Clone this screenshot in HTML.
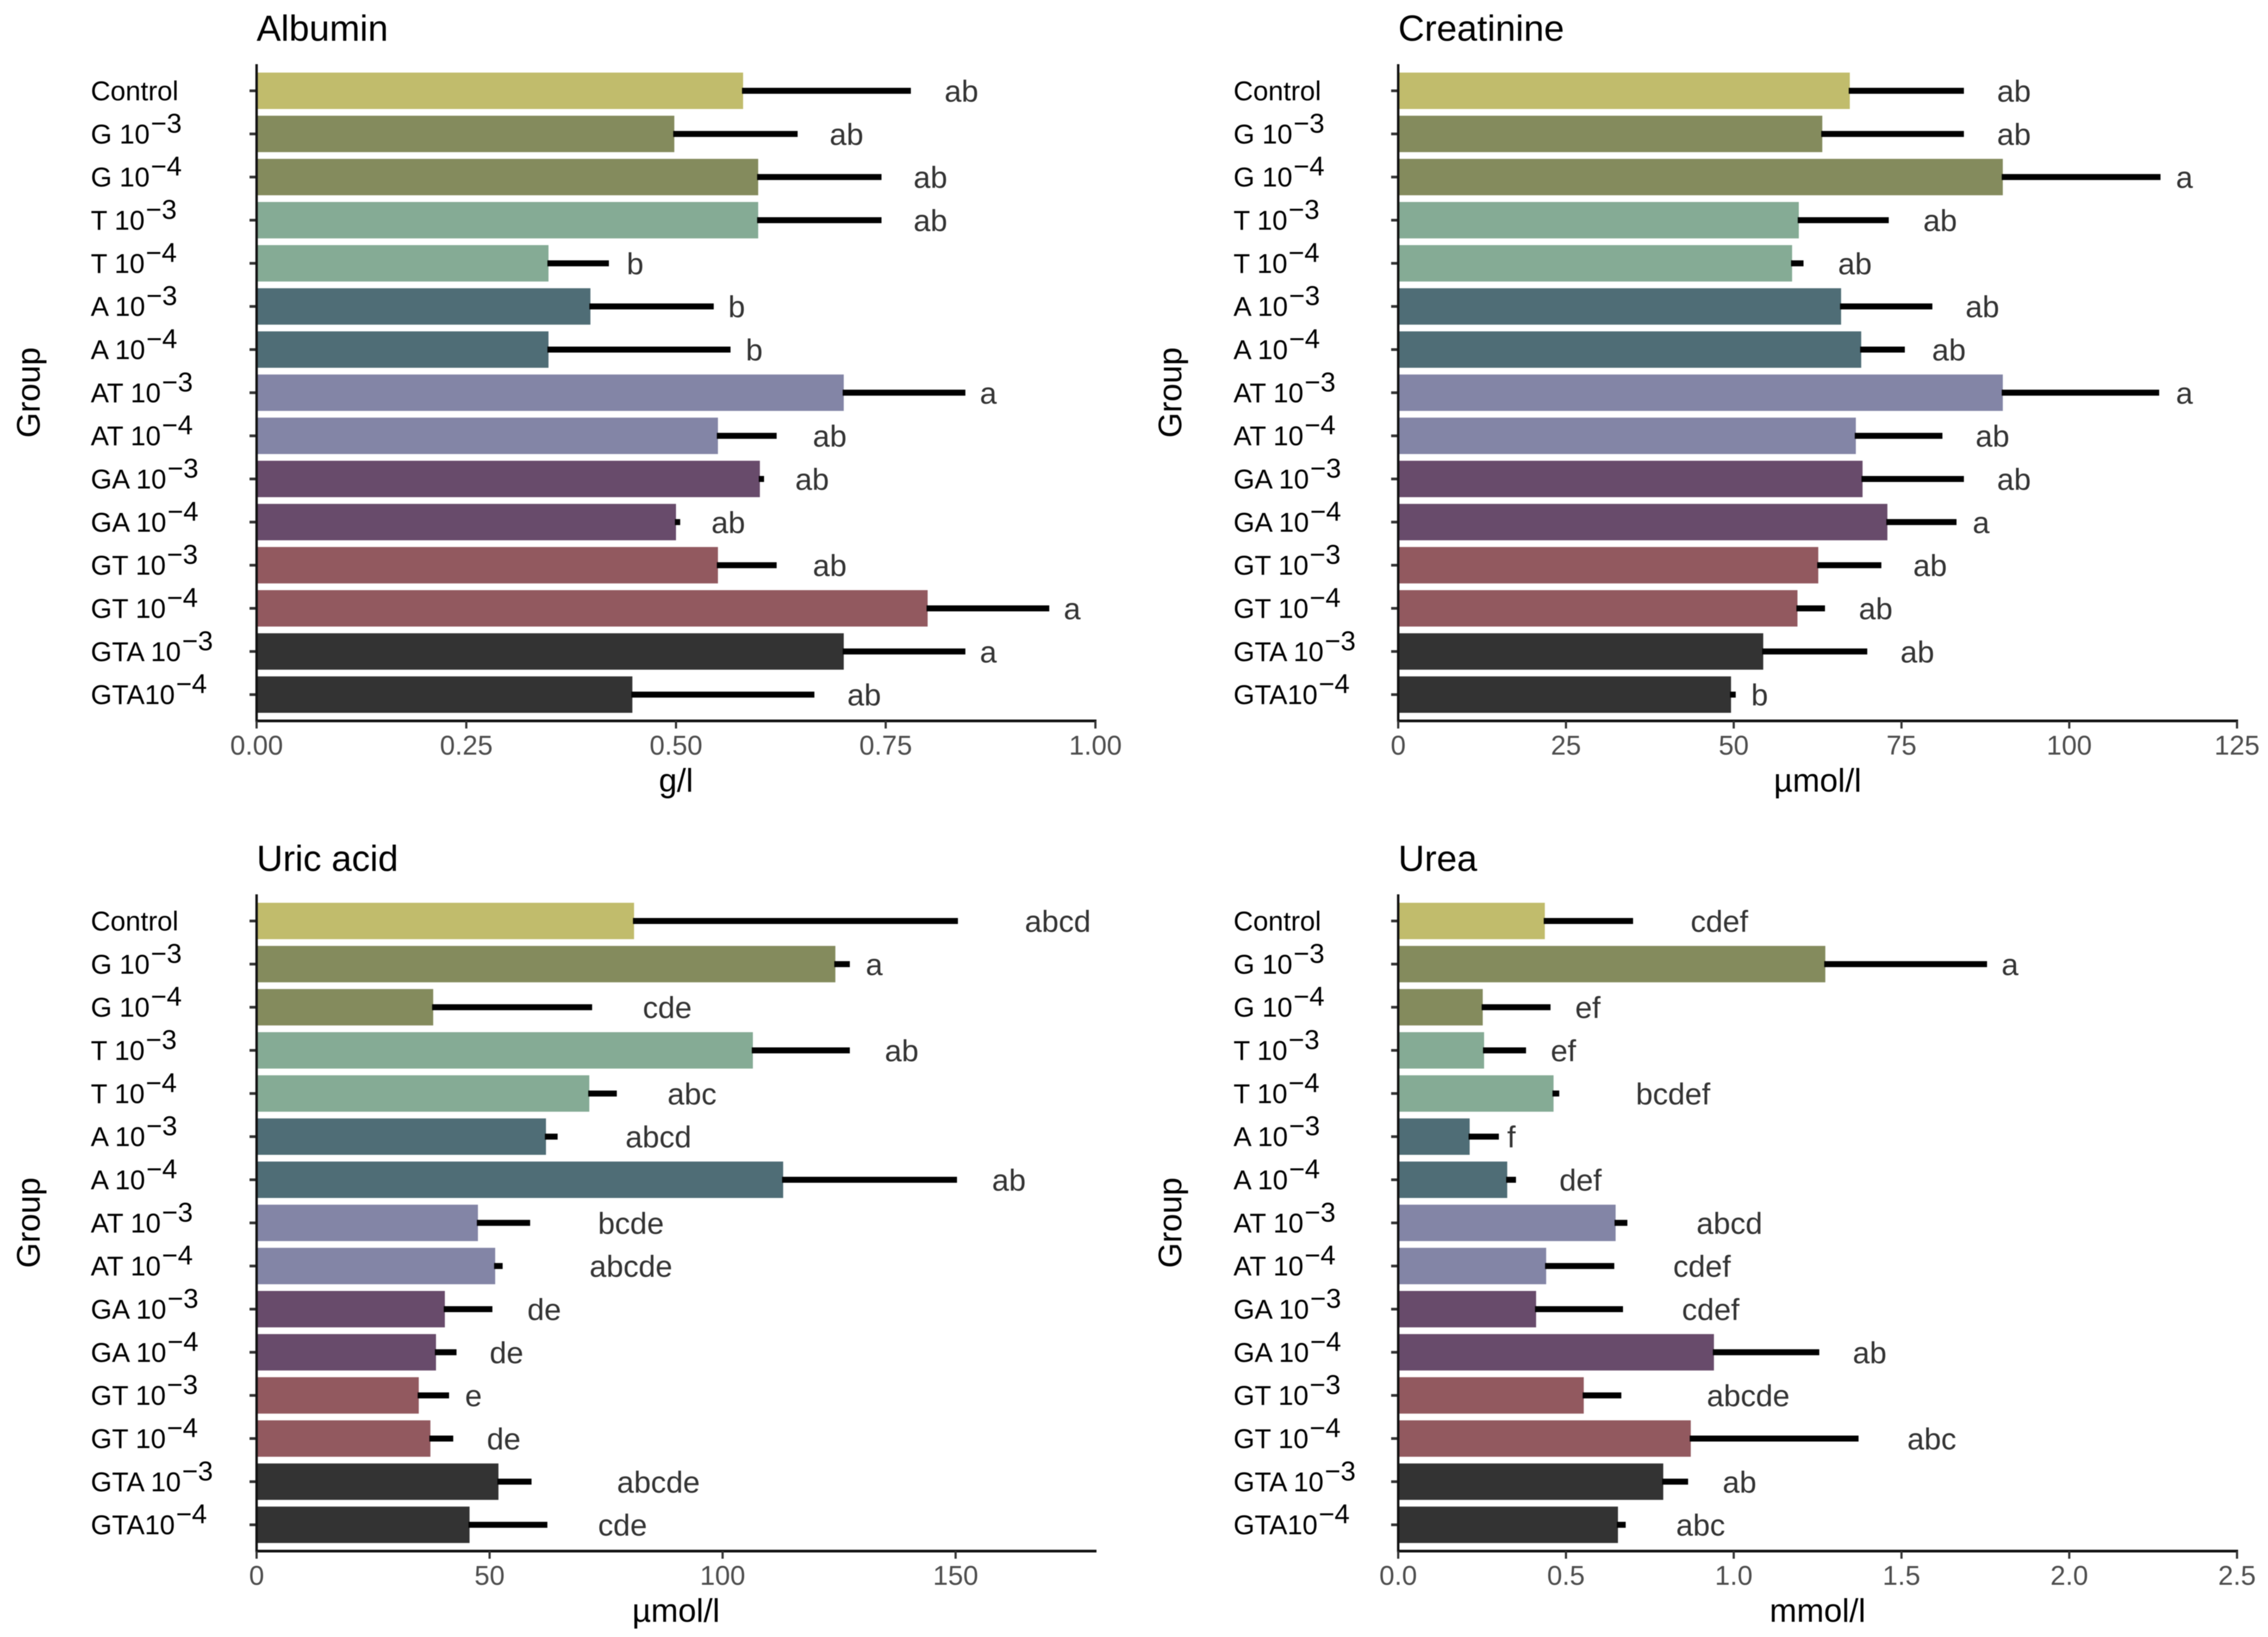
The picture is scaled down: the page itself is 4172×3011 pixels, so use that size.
<!DOCTYPE html>
<html>
<head>
<meta charset="utf-8">
<title>Biochemical parameters by group</title>
<style>
html,body{margin:0;padding:0;background:#fff;}
svg{display:block;filter:blur(0.9px);}
text{font-family:"Liberation Sans",Arial,sans-serif;}
</style>
</head>
<body>
<svg id="chart" xmlns="http://www.w3.org/2000/svg" width="4172" height="3011" viewBox="0 0 4172 3011">
<rect width="4172" height="3011" fill="#ffffff"/>
</svg>
<script>
const groupNames = ["Control","G 10","G 10","T 10","T 10","A 10","A 10","AT 10","AT 10","GA 10","GA 10","GT 10","GT 10","GTA 10","GTA10"];
const groupExponents = ["","−3","−4","−3","−4","−3","−4","−3","−4","−3","−4","−3","−4","−3","−4"];
const groupColors = ["#c1bc6c","#848b5d","#848b5d","#85ab95","#85ab95","#4f6d76","#4f6d76","#8385a6","#8385a6","#684b6b","#684b6b","#92595f","#92595f","#333333","#333333"];

const albuminValues = [0.58,0.498,0.598,0.598,0.348,0.398,0.348,0.70,0.55,0.60,0.50,0.55,0.80,0.70,0.448];
const albuminErrors = [0.78,0.645,0.745,0.745,0.42,0.545,0.565,0.845,0.62,0.605,0.505,0.62,0.945,0.845,0.665];
const albuminLetters = ["ab","ab","ab","ab","b","b","b","a","ab","ab","ab","ab","a","a","ab"];
const albuminLetterPos = [0.839,0.702,0.802,0.802,0.45,0.571,0.592,0.871,0.682,0.661,0.561,0.682,0.971,0.871,0.723];
const albuminTicks = ["0.00","0.25","0.50","0.75","1.00"];

const creatinineValues = [67.3,63.2,90.1,59.7,58.7,66,69,90.1,68.2,69.2,72.9,62.6,59.5,54.4,49.6];
const creatinineErrors = [84.3,84.3,113.6,73.1,60.4,79.6,75.5,113.4,81.1,84.3,83.2,72,63.6,69.9,50.3];
const creatinineLetters = ["ab","ab","a","ab","ab","ab","ab","a","ab","ab","a","ab","ab","ab","b"];
const creatinineLetterPos = [91.6,91.6,117,80.6,67.9,86.9,81.9,117,88.4,91.6,86.7,79.1,71,77.2,53.7];
const creatinineTicks = ["0","25","50","75","100","125"];

const uricValues = [81,124.2,37.9,106.5,71.4,62.1,113,47.5,51.2,40.4,38.5,34.8,37.3,51.9,45.7];
const uricErrors = [150.5,127.3,72,127.3,77.3,64.6,150.3,58.7,52.8,50.6,42.9,41.3,42.2,59,62.4];
const uricLetters = ["abcd","a","cde","ab","abc","abcd","ab","bcde","abcde","de","de","e","de","abcde","cde"];
const uricLetterPos = [171.7,132.3,87.9,138.2,93.2,86,161.2,80.1,80.1,61.5,53.4,46.3,52.8,86,78.3];
const uricTicks = ["0","50","100","150"];

const ureaValues = [0.437,1.273,0.252,0.256,0.463,0.213,0.325,0.648,0.441,0.411,0.941,0.553,0.872,0.79,0.655];
const ureaErrors = [0.70,1.755,0.454,0.381,0.48,0.30,0.351,0.683,0.644,0.67,1.255,0.665,1.372,0.864,0.678];
const ureaLetters = ["cdef","a","ef","ef","bcdef","f","def","abcd","cdef","cdef","ab","abcde","abc","ab","abc"];
const ureaLetterPos = [0.954,1.82,0.562,0.489,0.816,0.334,0.54,0.984,0.902,0.928,1.402,1.04,1.587,1.014,0.898];
const ureaTicks = ["0.0","0.5","1.0","1.5","2.0","2.5"];

const NS = "http://www.w3.org/2000/svg";
const root = document.getElementById("chart");

function make(parent, tag, attrs, text) {
  const el = document.createElementNS(NS, tag);
  for (const k in attrs) el.setAttribute(k, attrs[k]);
  if (text !== undefined) el.textContent = text;
  parent.appendChild(el);
  return el;
}

function slug(s) {
  return s.toLowerCase().replace(/[^a-z0-9]+/g, "-");
}

function drawPanel(id, title, unit, domainMax, ticks, values, errors, letters, letterPos, left, top, labelGap) {
  const width = 1543;
  const height = 1208;
  const bottom = top + height;
  const firstBand = top + 49;
  const band = 79.33;
  const barHeight = 67;
  const xScale = function (v) { return left + (v / domainMax) * width; };
  const yScale = function (i) { return firstBand + i * band; };

  const panel = make(root, "g", {});
  
  

  const titleEl = make(panel, "text", {x: left, y: top - 43, "font-size": 67, fill: "#000"}, title);
  
  

  values.forEach(function (v, i) {
    const cy = yScale(i);
    const key = slug(groupNames[i] + groupExponents[i].replace("−", "m"));

    const bar = make(panel, "rect", {x: left, y: cy - barHeight / 2, width: xScale(v) - left, height: barHeight, fill: groupColors[i]});
    
    

    const err = make(panel, "line", {x1: xScale(v) - 2, x2: xScale(errors[i]), y1: cy, y2: cy, stroke: "#000", "stroke-width": 11});
    
    

    const letter = make(panel, "text", {x: xScale(letterPos[i]) + 2, y: cy + 20, "font-size": 56, fill: "#333333", "text-anchor": "middle"}, letters[i]);
    
    

    const tick = make(panel, "line", {x1: left - 13, x2: left, y1: cy, y2: cy, stroke: "#333333", "stroke-width": 5});
    
    

    const label = make(panel, "text", {x: left - labelGap, y: cy + 17.5, "font-size": 50, fill: "#000"});
    
    
    make(label, "tspan", {}, groupNames[i]);
    if (groupExponents[i]) make(label, "tspan", {dy: -20, dx: 2}, groupExponents[i]);
  });

  const yAxis = make(panel, "line", {x1: left, x2: left, y1: top, y2: bottom + 2, stroke: "#111111", "stroke-width": 4.5});
  
  

  const xAxis = make(panel, "line", {x1: left - 2, x2: left + width + 2, y1: bottom, y2: bottom, stroke: "#111111", "stroke-width": 5});
  
  

  ticks.forEach(function (t) {
    const tx = xScale(parseFloat(t));
    const tickMark = make(panel, "line", {x1: tx, x2: tx, y1: bottom, y2: bottom + 14, stroke: "#333333", "stroke-width": 4});
    
    

    const tickLabel = make(panel, "text", {x: tx, y: bottom + 62, "font-size": 50, fill: "#4d4d4d", "text-anchor": "middle"}, t);
    
    
  });

  const xTitle = make(panel, "text", {x: left + width / 2, y: bottom + 130, "font-size": 60, fill: "#000", "text-anchor": "middle"}, unit);
  
  

  const yTitleY = top + height / 2;
  const yTitle = make(panel, "text", {x: 0, y: 0, transform: "translate(" + (left - 399) + "," + yTitleY + ") rotate(-90)", "font-size": 60, fill: "#000", "text-anchor": "middle"}, "Group");
  
  
}

drawPanel("albumin", "Albumin", "g/l", 1, albuminTicks, albuminValues, albuminErrors, albuminLetters, albuminLetterPos, 472, 118, 305);
drawPanel("creatinine", "Creatinine", "µmol/l", 125, creatinineTicks, creatinineValues, creatinineErrors, creatinineLetters, creatinineLetterPos, 2572, 118, 303);
drawPanel("uric-acid", "Uric acid", "µmol/l", 180, uricTicks, uricValues, uricErrors, uricLetters, uricLetterPos, 472, 1645, 305);
drawPanel("urea", "Urea", "mmol/l", 2.5, ureaTicks, ureaValues, ureaErrors, ureaLetters, ureaLetterPos, 2572, 1645, 303);
</script>
</body>
</html>
